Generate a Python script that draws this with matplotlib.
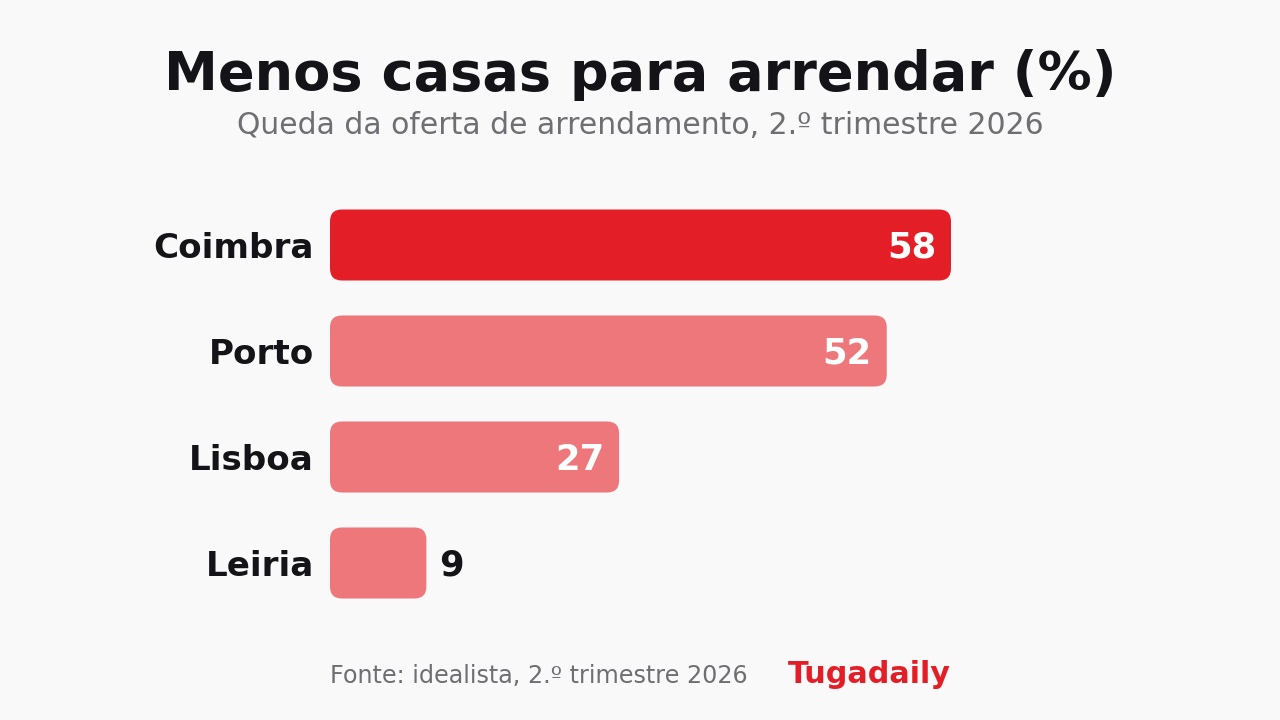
import matplotlib
matplotlib.use("Agg")
import matplotlib.pyplot as plt
from matplotlib.patches import FancyBboxPatch

plt.rcParams["font.family"] = ["DejaVu Sans"]

categories = ["Coimbra", "Porto", "Lisboa", "Leiria"]
values = [58, 52, 27, 9]
title = "Menos casas para arrendar (%)"
subtitle = "Queda da oferta de arrendamento, 2.º trimestre 2026"
source = "Fonte: idealista, 2.º trimestre 2026"
brand = "Tugadaily"

BG = "#f9f9f9"
RED = "#e41e26"
LIGHT = "#ee777b"
DARK = "#141418"
GRAY = "#6e6e73"

W, H = 1280, 720
PT = 0.72  # points per pixel at dpi=100
fig = plt.figure(figsize=(12.8, 7.2), dpi=100, facecolor=BG)

ax_left, ax_right = 330, 951
ax_top, ax_bot = 192, 616
ax = fig.add_axes([ax_left / W, 1 - ax_bot / H, (ax_right - ax_left) / W, (ax_bot - ax_top) / H])
ax.set_facecolor(BG)
ax.set_xlim(0, max(values))
ax.set_ylim(len(values) - 0.5, -0.5)
ax.axis("off")

px_x = max(values) / (ax_right - ax_left)  # data units per px in x
px_y = len(values) / (ax_bot - ax_top)
bar_h = 71 * px_y
r_px = 12
base_off = -12.5 * PT
for i, (c, v) in enumerate(zip(categories, values)):
    color = RED if i == 0 else LIGHT
    p = FancyBboxPatch((0, i - bar_h / 2), v, bar_h,
                       boxstyle=f"round,pad=0,rounding_size={r_px * px_x}",
                       mutation_aspect=px_y / px_x,
                       facecolor=color, edgecolor="none")
    ax.add_patch(p)
    ax.annotate(c, (0, i), xytext=(-16 * PT, base_off), textcoords="offset points",
                ha="right", va="baseline", fontsize=24.6, fontweight="bold",
                color=DARK, annotation_clip=False)
    if v >= 20:
        ax.annotate(str(v), (v, i), xytext=(-15 * PT, base_off), textcoords="offset points",
                    ha="right", va="baseline", fontsize=25.5, fontweight="bold",
                    color="white", annotation_clip=False)
    else:
        ax.annotate(str(v), (v, i), xytext=(13 * PT, base_off), textcoords="offset points",
                    ha="left", va="baseline", fontsize=25.5, fontweight="bold",
                    color=DARK, annotation_clip=False)

fig.text(0.5, 1 - 90 / H, title, ha="center", va="baseline", fontsize=39,
         fontweight="bold", color=DARK)
fig.text(0.5, 1 - 134 / H, subtitle, ha="center", va="baseline", fontsize=21.5,
         color=GRAY)
fig.text(ax_left / W, 1 - 683 / H, source, ha="left", va="baseline", fontsize=17.2,
         color=GRAY)
fig.text(ax_right / W, 1 - 683 / H, brand, ha="right", va="baseline", fontsize=21.8,
         fontweight="bold", color=RED)

fig.savefig("out.png", dpi=100, facecolor=BG)
